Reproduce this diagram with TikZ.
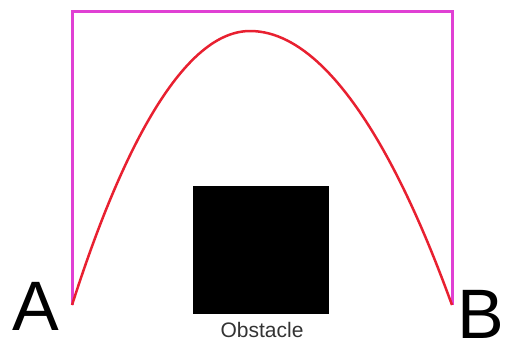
\documentclass[tikz,border=0pt]{standalone}
\usepackage{fontspec}
\setmainfont{Liberation Sans}
\usetikzlibrary{positioning}
\definecolor{pathmagenta}{RGB}{224,64,212}
\definecolor{pathred}{RGB}{232,32,48}
\tikzstyle{endlabel} = [font=\fontsize{70}{70}\selectfont, inner sep=0pt, anchor=base]
\tikzstyle{route} = [line width=3pt, line join=miter]

\begin{document}
\begin{tikzpicture}[x=1pt, y=-1pt]
  \useasboundingbox (0,0) rectangle (505,349);
  \coordinate (start) at (72,305);
  \coordinate (goal) at (452,305);
  \coordinate (cornerL) at (72,11);
  \coordinate (cornerR) at (452,11);
  \coordinate (top) at (250,31);
  \node[fill=black, minimum width=136pt, minimum height=128pt, inner sep=0pt] (obstacle) at (260.5,250) {};
  \node[font=\fontsize{21}{21}\selectfont, text=black!80, anchor=base] (obslabel) at (262,337) {Obstacle};
  \node[endlabel] (a) at (36,330) {A};
  \node[endlabel, anchor=base west] (b) at (457,338) {B};
  \draw[route, pathmagenta] (start) -- (cornerL) -- (cornerR) -- (goal);
  \draw[route, pathred, line width=2.5pt] (start) parabola bend (top) (goal);
\end{tikzpicture}
\end{document}
